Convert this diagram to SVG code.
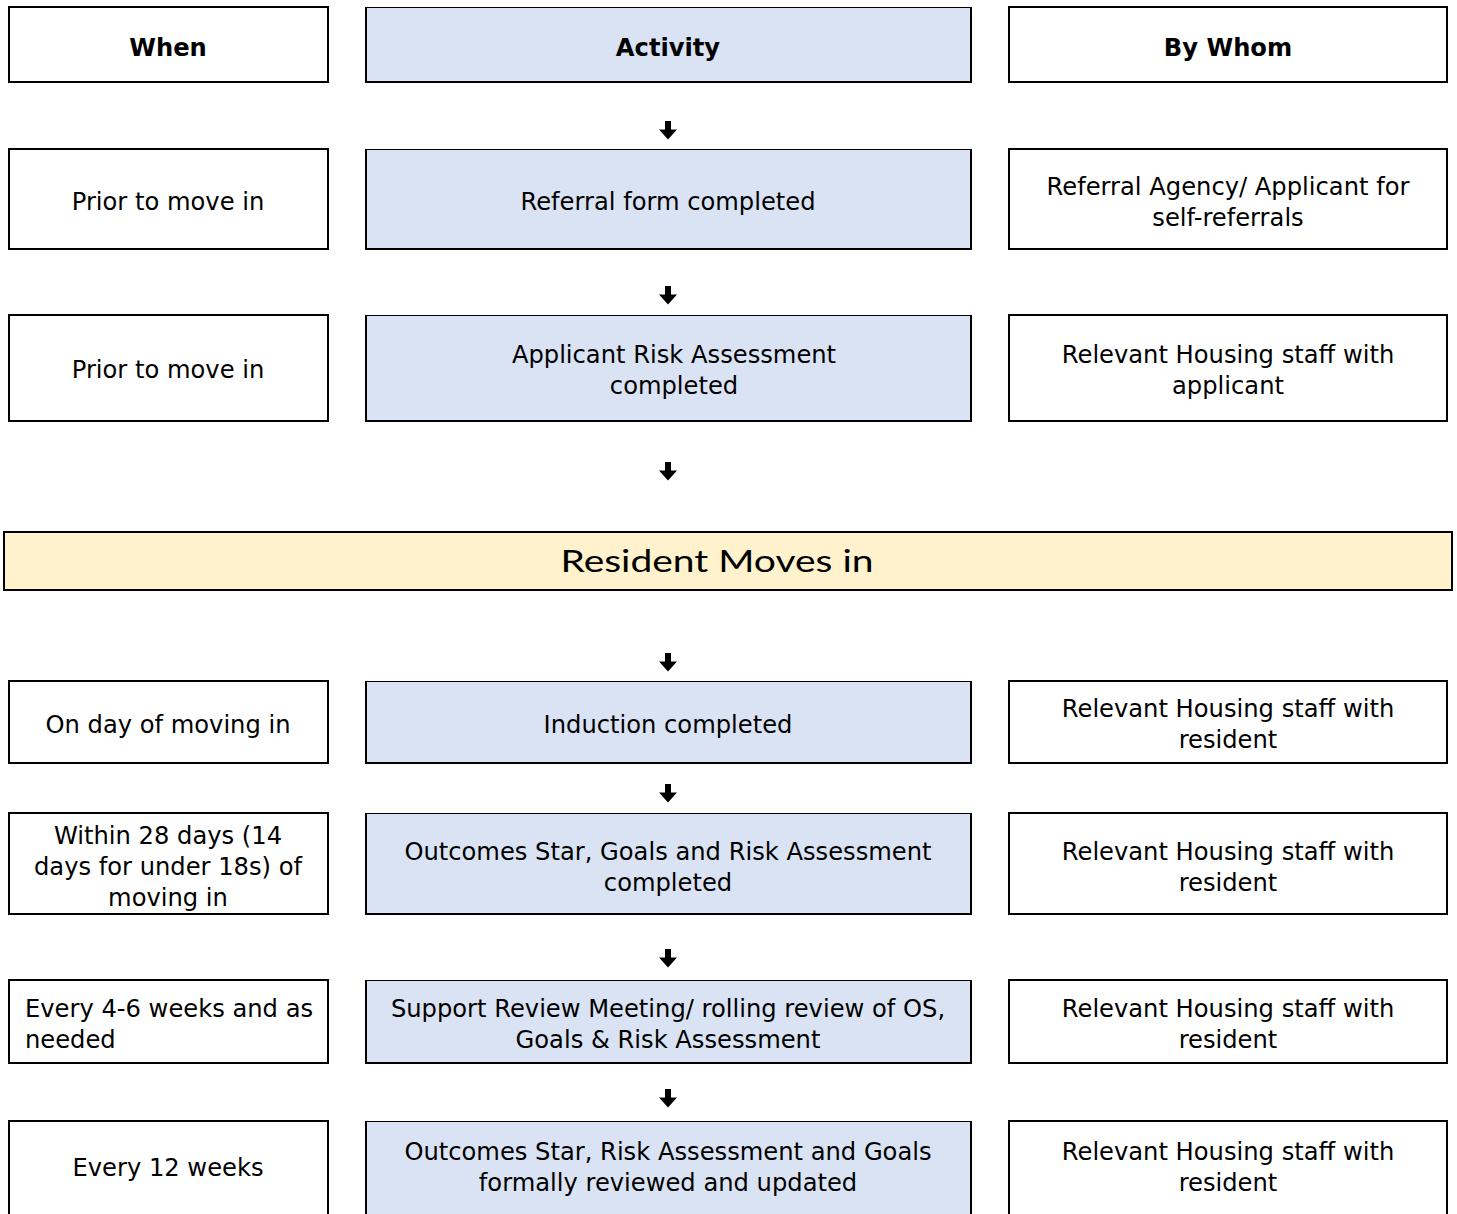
<svg xmlns="http://www.w3.org/2000/svg" xmlns:xlink="http://www.w3.org/1999/xlink" width="1457" height="1214" viewBox="0 0 1457 1214">
<defs>
<style>
.box{fill:#fff;stroke:#000;stroke-width:2}
.act{fill:#DAE3F3;stroke:none}
.actb{fill:none;stroke:#000;stroke-width:2}
.actt{stroke:#000;stroke-width:1}
.t{font-family:"DejaVu Sans",Verdana,sans-serif;font-size:24.2px;fill:#000;text-anchor:middle}
.tl{text-anchor:start}
.h{font-weight:bold}
.banner{fill:#FFF2CC;stroke:#000;stroke-width:2}
.bt{font-family:Lato,"Open Sans",sans-serif;font-size:31px;fill:#000;text-anchor:middle}
.arr{fill:#000}
</style>
<path id="arrow" d="M-3 0 h6 v8.5 h6 l-9 10 l-9 -10 h6 z"/>
</defs>
<rect width="1457" height="1214" fill="#fff"/>

<g id="connectors" class="arr">
<use xlink:href="#arrow" x="668" y="121"/>
<use xlink:href="#arrow" x="668" y="286"/>
<use xlink:href="#arrow" x="668" y="462"/>
<use xlink:href="#arrow" x="668" y="653"/>
<use xlink:href="#arrow" x="668" y="784"/>
<use xlink:href="#arrow" x="668" y="949"/>
<use xlink:href="#arrow" x="668" y="1089"/>
</g>

<g id="hdr-when"><rect class="box" x="9" y="7" width="319" height="75"/><text class="t h" x="168" y="56">When</text></g>
<g id="hdr-activity"><rect class="act" x="366" y="7" width="605" height="75"/><path class="actb" d="M366 7 V82 H971 V7"/><line class="actt" x1="366" y1="7.5" x2="971" y2="7.5"/><text class="t h" x="668" y="56">Activity</text></g>
<g id="hdr-bywhom"><rect class="box" x="1009" y="7" width="438" height="75"/><text class="t h" x="1228" y="56">By Whom</text></g>

<g id="r1-when"><rect class="box" x="9" y="149" width="319" height="100"/><text class="t" x="168" y="210">Prior to move in</text></g>
<g id="r1-act"><rect class="act" x="366" y="149" width="605" height="100"/><path class="actb" d="M366 149 V249 H971 V149"/><line class="actt" x1="366" y1="149.5" x2="971" y2="149.5"/><text class="t" x="668" y="210">Referral form completed</text></g>
<g id="r1-who"><rect class="box" x="1009" y="149" width="438" height="100"/><text class="t" x="1228" y="195">Referral Agency/ Applicant for</text><text class="t" x="1228" y="226">self-referrals</text></g>

<g id="r2-when"><rect class="box" x="9" y="315" width="319" height="106"/><text class="t" x="168" y="378">Prior to move in</text></g>
<g id="r2-act"><rect class="act" x="366" y="315" width="605" height="106"/><path class="actb" d="M366 315 V421 H971 V315"/><line class="actt" x1="366" y1="315.5" x2="971" y2="315.5"/><text class="t" x="674" y="363">Applicant Risk Assessment</text><text class="t" x="674" y="394">completed</text></g>
<g id="r2-who"><rect class="box" x="1009" y="315" width="438" height="106"/><text class="t" x="1228" y="363">Relevant Housing staff with</text><text class="t" x="1228" y="394">applicant</text></g>

<g id="banner"><rect class="banner" x="4" y="532" width="1448" height="58"/><text class="bt" x="717" y="572" textLength="313" lengthAdjust="spacingAndGlyphs">Resident Moves in</text></g>

<g id="r3-when"><rect class="box" x="9" y="681" width="319" height="82"/><text class="t" x="168" y="733">On day of moving in</text></g>
<g id="r3-act"><rect class="act" x="366" y="681" width="605" height="82"/><path class="actb" d="M366 681 V763 H971 V681"/><line class="actt" x1="366" y1="681.5" x2="971" y2="681.5"/><text class="t" x="668" y="733">Induction completed</text></g>
<g id="r3-who"><rect class="box" x="1009" y="681" width="438" height="82"/><text class="t" x="1228" y="717">Relevant Housing staff with</text><text class="t" x="1228" y="748">resident</text></g>

<g id="r4-when"><rect class="box" x="9" y="813" width="319" height="101"/><text class="t" x="168" y="844">Within 28 days (14</text><text class="t" x="168" y="875">days for under 18s) of</text><text class="t" x="168" y="906">moving in</text></g>
<g id="r4-act"><rect class="act" x="366" y="813" width="605" height="101"/><path class="actb" d="M366 813 V914 H971 V813"/><line class="actt" x1="366" y1="813.5" x2="971" y2="813.5"/><text class="t" x="668" y="860">Outcomes Star, Goals and Risk Assessment</text><text class="t" x="668" y="891">completed</text></g>
<g id="r4-who"><rect class="box" x="1009" y="813" width="438" height="101"/><text class="t" x="1228" y="860">Relevant Housing staff with</text><text class="t" x="1228" y="891">resident</text></g>

<g id="r5-when"><rect class="box" x="9" y="980" width="319" height="83"/><text class="t tl" x="25" y="1017">Every 4-6 weeks and as</text><text class="t tl" x="25" y="1048">needed</text></g>
<g id="r5-act"><rect class="act" x="366" y="980" width="605" height="83"/><path class="actb" d="M366 980 V1063 H971 V980"/><line class="actt" x1="366" y1="980.5" x2="971" y2="980.5"/><text class="t" x="668" y="1017">Support Review Meeting/ rolling review of OS,</text><text class="t" x="668" y="1048">Goals &amp; Risk Assessment</text></g>
<g id="r5-who"><rect class="box" x="1009" y="980" width="438" height="83"/><text class="t" x="1228" y="1017">Relevant Housing staff with</text><text class="t" x="1228" y="1048">resident</text></g>

<g id="r6-when"><rect class="box" x="9" y="1121" width="319" height="100"/><text class="t" x="168" y="1176">Every 12 weeks</text></g>
<g id="r6-act"><rect class="act" x="366" y="1121" width="605" height="100"/><path class="actb" d="M366 1121 V1221 H971 V1121"/><line class="actt" x1="366" y1="1121.5" x2="971" y2="1121.5"/><text class="t" x="668" y="1160">Outcomes Star, Risk Assessment and Goals</text><text class="t" x="668" y="1191">formally reviewed and updated</text></g>
<g id="r6-who"><rect class="box" x="1009" y="1121" width="438" height="100"/><text class="t" x="1228" y="1160">Relevant Housing staff with</text><text class="t" x="1228" y="1191">resident</text></g>
</svg>
